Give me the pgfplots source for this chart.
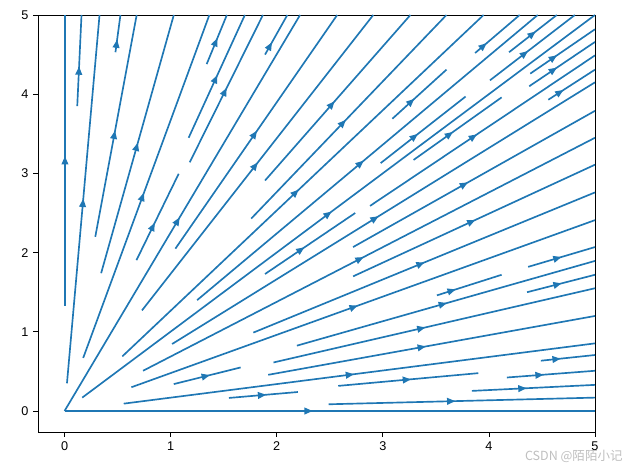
\documentclass[border=0pt]{standalone}
\usepackage{pgfplots}
\pgfplotsset{compat=1.18}
\usepackage{fontspec}
\setmainfont{Liberation Sans}
\newfontfamily\cjk{Noto Sans CJK SC}
\usetikzlibrary{decorations.markings,arrows.meta}
\definecolor{mplblue}{HTML}{1F77B4}

% one streamline: arrow position (fraction), start x y, end x y
\newcommand{\stream}[5]{%
  \addplot[flow, postaction={decorate, decoration={markings,
    mark=at position #1 with {\arrow[xshift=3.1pt]{Triangle[length=6.2pt,width=5pt]}}}}]
    coordinates {(#2,#3) (#4,#5)};}

\begin{document}
\begin{tikzpicture}
\useasboundingbox (-28.5pt,-24.75pt) rectangle (446.25pt,324pt);
\begin{axis}[
    scale only axis,
    width=417.75pt,
    height=312.75pt,
    xmin=-0.25, xmax=5,
    ymin=-0.265, ymax=5,
    xtick={0,1,2,3,4,5},
    ytick={0,1,2,3,4,5},
    xtick pos=bottom, ytick pos=left,
    tick align=outside,
    major tick length=3.6pt,
    tick style={black, line width=0.6pt},
    axis line style={line width=0.6pt},
    tick label style={font=\fontsize{9.5}{11}\selectfont},
    /pgf/number format/assume math mode=true,
    clip mode=individual,
    flow/.style={mplblue, line width=1.25pt, line cap=butt, mark=none},
]
% upper-left fan (rays ending on the top edge)
\stream{0.50}{0.004}{1.33}{0.004}{5}
\stream{0.39}{0.12}{3.85}{0.16}{5}
\stream{0.49}{0.023}{0.35}{0.33}{5}
\stream{0.23}{0.48}{4.53}{0.527}{5}
\stream{0.46}{0.29}{2.2}{0.68}{5}
\stream{0.49}{0.345}{1.74}{1.03}{5}
\stream{0.47}{0.176}{0.67}{1.365}{5}
\stream{0.45}{1.34}{4.38}{1.53}{5}
\stream{0.48}{1.17}{3.45}{1.70}{5}
\stream{0.39}{0.678}{1.904}{1.076}{2.995}
\stream{0.48}{1.18}{3.14}{1.87}{5}
\stream{0.22}{1.89}{4.5}{2.10}{5}
\stream{0.48}{0}{0}{2.22}{5}
\stream{0.49}{1.045}{2.05}{2.57}{5}
\stream{0.49}{0.73}{1.27}{2.91}{5}
\stream{0.46}{1.89}{2.91}{3.26}{5}
\stream{0.47}{1.76}{2.43}{3.60}{5}
\stream{0.48}{0.545}{0.69}{3.95}{5}
\stream{0.35}{3.09}{3.69}{3.60}{4.31}
\stream{0.19}{3.87}{4.52}{4.29}{5}
\stream{0.48}{1.25}{1.40}{4.46}{5}
\stream{0.49}{4.19}{4.53}{4.64}{5}
\stream{0.40}{2.98}{3.13}{3.78}{3.97}
\stream{0.41}{4.01}{4.175}{4.81}{5}
\stream{0.48}{0.167}{0.169}{5}{5}
% lower-right fan (rays ending on the right edge)
\stream{0.36}{4.39}{4.26}{5}{4.82}
\stream{0.41}{3.29}{3.17}{4.12}{3.96}
\stream{0.37}{4.38}{4.10}{5}{4.66}
\stream{0.40}{1.89}{1.73}{2.74}{2.50}
\stream{0.46}{2.88}{2.59}{5}{4.49}
\stream{0.25}{4.56}{3.93}{5}{4.31}
\stream{0.48}{1.014}{0.846}{5}{4.15}
\stream{0.46}{2.72}{2.07}{5}{3.79}
\stream{0.48}{0.74}{0.508}{5}{3.45}
\stream{0.49}{2.72}{1.70}{5}{3.11}
\stream{0.49}{1.78}{0.99}{5}{2.76}
\stream{0.48}{0.63}{0.30}{5}{2.41}
\stream{0.23}{3.51}{1.46}{4.12}{1.72}
\stream{0.44}{4.37}{1.82}{5}{2.07}
\stream{0.49}{2.19}{0.825}{5}{1.895}
\stream{0.45}{4.36}{1.50}{5}{1.72}
\stream{0.48}{1.03}{0.34}{1.66}{0.55}
\stream{0.46}{1.97}{0.613}{5}{1.55}
\stream{0.47}{1.92}{0.457}{5}{1.20}
\stream{0.48}{0.558}{0.093}{5}{0.854}
\stream{0.49}{2.58}{0.317}{3.90}{0.478}
\stream{0.29}{4.49}{0.635}{5}{0.707}
\stream{0.48}{1.55}{0.165}{2.2}{0.24}
\stream{0.37}{4.17}{0.423}{5}{0.508}
\stream{0.41}{3.84}{0.254}{5}{0.33}
\stream{0.46}{2.49}{0.085}{5}{0.169}
\stream{0.46}{0}{0}{5}{0}
\end{axis}
\node[anchor=east, text=black!25, font=\cjk\fontsize{9.4}{10}\selectfont]
  at (442pt,-18pt) {CSDN @陌陌小记};
\end{tikzpicture}
\end{document}
